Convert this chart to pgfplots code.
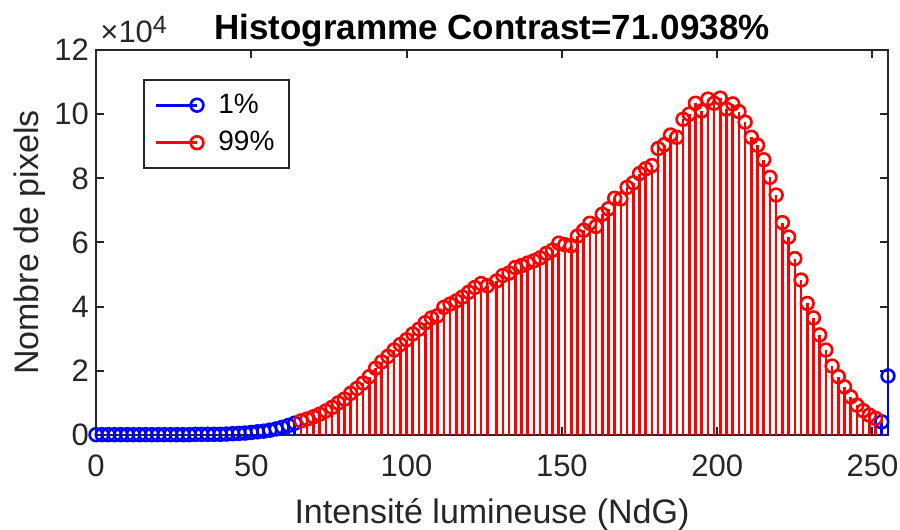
\documentclass[border=0pt]{standalone}
\usepackage{fontspec}
\setmainfont{Liberation Sans}
\usepackage{pgfplots}
\pgfplotsset{compat=1.18}
\usepackage{pgfplotstable}

\definecolor{axisgray}{RGB}{38,38,38}
\definecolor{mblue}{RGB}{0,0,255}
\definecolor{mred}{RGB}{255,0,0}

% grey levels below the 1% cut and above the 99% cut (counts in units of 10^4)
\pgfplotstableread{
x y
0 0.01
2 0.01
4 0.01
6 0.01
8 0.01
10 0.01
12 0.01
14 0.01
16 0.01
18 0.01
20 0.01
22 0.01
24 0.01
26 0.01
28 0.01
30 0.01
32 0.02
34 0.02
36 0.02
38 0.02
40 0.02
42 0.03
44 0.04
46 0.05
48 0.06
50 0.08
52 0.10
54 0.12
56 0.15
58 0.19
60 0.24
62 0.30
64 0.37
253 0.41
255 1.84
}\tailtab

% grey levels kept between the two cuts
\pgfplotstableread{
x y
66 0.44
68 0.50
70 0.57
72 0.65
74 0.75
76 0.86
78 1.00
80 1.12
82 1.30
84 1.45
86 1.62
88 1.82
90 2.08
92 2.28
94 2.45
96 2.65
98 2.82
100 2.97
102 3.15
104 3.30
106 3.50
108 3.65
110 3.72
112 3.98
114 4.08
116 4.18
118 4.30
120 4.45
122 4.60
124 4.72
126 4.65
129 4.80
131 4.97
133 5.05
135 5.22
137 5.28
139 5.36
141 5.43
143 5.52
145 5.66
147 5.76
149 5.98
151 5.93
153 5.90
155 6.20
157 6.38
159 6.60
161 6.50
163 6.88
165 7.05
167 7.38
169 7.36
171 7.72
173 7.86
175 8.15
177 8.30
179 8.40
181 8.93
183 9.05
185 9.35
187 9.28
189 9.84
191 10.00
193 10.34
195 10.10
197 10.47
199 10.34
201 10.50
203 10.16
205 10.32
207 10.08
209 9.75
211 9.28
213 9.03
215 8.58
217 8.03
219 7.48
221 6.62
223 6.17
225 5.50
227 4.83
229 4.10
231 3.65
233 3.12
235 2.65
237 2.15
239 1.82
241 1.50
243 1.19
245 0.93
247 0.76
249 0.62
251 0.52
}\midtab

\begin{document}
\begin{tikzpicture}
\useasboundingbox (-48pt,-47.5pt) rectangle (402pt,217.5pt);
\begin{axis}[
  scale only axis,
  width=396pt, height=192.5pt,
  xmin=0, xmax=255, ymin=0, ymax=12,
  xtick={0,50,...,250},
  ytick={0,2,...,12},
  tick align=inside,
  major tick length=4pt,
  axis line style={axisgray, line width=1pt},
  every tick/.style={axisgray, line width=1pt},
  tick label style={font=\fontsize{15.5}{18}\selectfont, text=axisgray},
  xticklabel style={yshift=-6.3pt},
  /pgf/number format/assume math mode=true,
  clip=false,
  legend cell align=left,
  legend style={
    at={(rel axis cs:0.059,0.9247)}, anchor=north west,
    draw=axisgray, line width=1pt,
    font=\fontsize{14}{16}\selectfont,
    inner xsep=5.5pt, inner ysep=5pt, row sep=3.5pt, column sep=5.5pt,
  },
  legend image code/.code={
    \draw[#1, mark=none] (0pt,0pt) -- (20.5pt,0pt);
    \draw[#1, sharp plot] plot coordinates {(20.5pt,0pt)};
  },
]
\addplot[ycomb, color=mblue, line width=1.3pt, mark=o, mark size=3.2pt,
  mark options={line width=1.3pt}] table {\tailtab};
\addlegendentry{1\%}
\addplot[ycomb, color=mred, line width=1.3pt, mark=o, mark size=3.2pt,
  mark options={line width=1.3pt}] table {\midtab};
\addlegendentry{99\%}

\node[anchor=base, font=\bfseries\fontsize{17.5}{20}\selectfont]
  at ([yshift=5pt]rel axis cs:0.5,1) {Histogramme Contrast=71.0938\%};
\node[anchor=base west, inner sep=0pt, text=axisgray, font=\fontsize{15.5}{18}\selectfont]
  at ([xshift=2pt,yshift=3.5pt]rel axis cs:0,1)
  {×10\raisebox{4.8pt}{\fontsize{12.5}{14}\selectfont 4}};
\node[anchor=base, text=axisgray, font=\fontsize{17}{20}\selectfont]
  at ([yshift=-44pt]rel axis cs:0.5,0) {Intensité lumineuse (NdG)};
\node[anchor=base, rotate=90, text=axisgray, font=\fontsize{17}{20}\selectfont]
  at ([xshift=-28.5pt]rel axis cs:0,0.5) {Nombre de pixels};
\end{axis}
\end{tikzpicture}
\end{document}
